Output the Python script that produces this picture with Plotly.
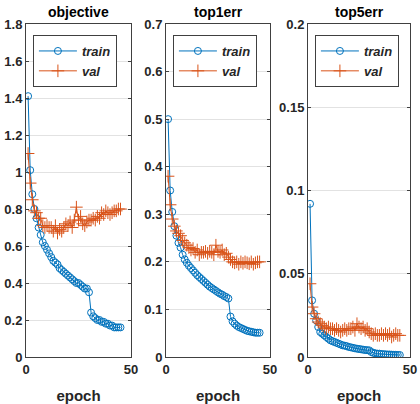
import plotly.graph_objects as go

epochs = list(range(1, 46))

train_objective = [1.41, 1.01, 0.88, 0.80, 0.75, 0.70, 0.66, 0.62, 0.60, 0.58,
                   0.56, 0.54, 0.52, 0.51, 0.50, 0.48, 0.47, 0.46, 0.45, 0.44,
                   0.43, 0.42, 0.41, 0.40, 0.40, 0.39, 0.38, 0.37, 0.37, 0.35,
                   0.24, 0.22, 0.21, 0.20, 0.20, 0.19, 0.19, 0.18, 0.18, 0.17,
                   0.17, 0.16, 0.16, 0.16, 0.16]
val_objective = [1.10, 0.94, 0.85, 0.79, 0.78, 0.75, 0.75, 0.71, 0.70, 0.71,
                 0.70, 0.70, 0.68, 0.71, 0.67, 0.69, 0.68, 0.70, 0.72, 0.71,
                 0.73, 0.70, 0.74, 0.81, 0.74, 0.76, 0.72, 0.71, 0.73, 0.74,
                 0.74, 0.75, 0.74, 0.76, 0.75, 0.78, 0.77, 0.79, 0.78, 0.77,
                 0.78, 0.79, 0.79, 0.80, 0.80]

train_top1 = [0.50, 0.35, 0.305, 0.275, 0.255, 0.24, 0.23, 0.215, 0.205, 0.198,
              0.192, 0.187, 0.182, 0.177, 0.172, 0.168, 0.164, 0.160, 0.156, 0.152,
              0.148, 0.145, 0.142, 0.139, 0.136, 0.133, 0.131, 0.128, 0.126, 0.123,
              0.085, 0.075, 0.070, 0.066, 0.063, 0.061, 0.059, 0.057, 0.055, 0.054,
              0.053, 0.052, 0.051, 0.051, 0.051]
val_top1 = [0.38, 0.32, 0.29, 0.275, 0.265, 0.26, 0.255, 0.245, 0.24, 0.235,
            0.23, 0.225, 0.228, 0.22, 0.225, 0.215, 0.22, 0.22, 0.222, 0.218,
            0.222, 0.22, 0.215, 0.235, 0.222, 0.22, 0.225, 0.215, 0.218, 0.21,
            0.205, 0.20, 0.198, 0.20, 0.195, 0.20, 0.197, 0.20, 0.198, 0.196,
            0.20, 0.195, 0.198, 0.20, 0.20]

train_top5 = [0.092, 0.034, 0.026, 0.022, 0.018, 0.015, 0.014, 0.013, 0.012, 0.011,
              0.010, 0.0095, 0.009, 0.0085, 0.008, 0.0075, 0.007, 0.0068, 0.0065, 0.006,
              0.0058, 0.0055, 0.0052, 0.005, 0.0048, 0.0046, 0.0044, 0.0042, 0.0041, 0.004,
              0.003, 0.0025, 0.0022, 0.002, 0.002, 0.0018, 0.0017, 0.0016, 0.0015, 0.0015,
              0.0014, 0.0013, 0.0013, 0.0012, 0.0012]
val_top5 = [0.044, 0.030, 0.026, 0.023, 0.021, 0.020, 0.019, 0.018, 0.017, 0.018,
            0.017, 0.017, 0.016, 0.017, 0.016, 0.015, 0.016, 0.017, 0.016, 0.017,
            0.017, 0.018, 0.016, 0.020, 0.018, 0.017, 0.018, 0.016, 0.017, 0.015,
            0.014, 0.013, 0.014, 0.013, 0.013, 0.014, 0.013, 0.014, 0.013, 0.014,
            0.012, 0.013, 0.014, 0.013, 0.013]

titles = ["objective", "top1err", "top5err"]
y_ranges = [[0, 1.8], [0, 0.7], [0, 0.2]]
y_dticks = [0.2, 0.1, 0.05]

BLUE = "#0072BD"
ORANGE = "#D95319"
AXIS = "#404040"
FONT = "Liberation Sans"

# plot area is 26..410 px wide, panels placed like the matlab subplots
domains = [[0, 0.2734], [0.3646, 0.6354], [0.7344, 1.0]]

fig = go.Figure()

panels = [
    (train_objective, val_objective),
    (train_top1, val_top1),
    (train_top5, val_top5),
]

for i, (train, val) in enumerate(panels):
    n = "" if i == 0 else str(i + 1)
    leg = "legend" + n
    fig.add_trace(
        go.Scatter(
            x=epochs, y=train, name="train", mode="lines+markers",
            line=dict(color=BLUE, width=1),
            marker=dict(symbol="circle-open", size=7, color=BLUE, line_width=1),
            xaxis="x" + n, yaxis="y" + n, legend=leg,
        )
    )
    fig.add_trace(
        go.Scatter(
            x=epochs, y=val, name="val", mode="lines+markers",
            line=dict(color=ORANGE, width=1),
            marker=dict(symbol="cross-thin-open", size=9, color=ORANGE,
                        line=dict(width=1, color=ORANGE)),
            xaxis="x" + n, yaxis="y" + n, legend=leg,
        )
    )

    fig.update_layout({
        "xaxis" + n: dict(
            domain=domains[i], anchor="y" + n, range=[0, 50], automargin=False,
            tickvals=[0, 50], ticks="inside", ticklen=3, tickcolor=AXIS,
            showline=True, linecolor=AXIS, linewidth=1, mirror="ticks",
            showgrid=False, zeroline=False,
            tickfont=dict(family=FONT, size=13, color="#262626", weight="bold"),
            title=dict(text="epoch", standoff=14,
                       font=dict(family=FONT, size=15, color="#262626", weight="bold")),
        ),
        "yaxis" + n: dict(
            anchor="x" + n, range=y_ranges[i], dtick=y_dticks[i], automargin=False,
            ticks="inside", ticklen=3, tickcolor=AXIS,
            showline=True, linecolor=AXIS, linewidth=1, mirror="ticks",
            showgrid=True, gridcolor="#e2e2e2", zeroline=False,
            tickfont=dict(family=FONT, size=13, color="#262626", weight="bold"),
        ),
        leg: dict(
            x=domains[i][0] + 0.018, y=0.967, xanchor="left", yanchor="top",
            bgcolor="white", bordercolor=AXIS, borderwidth=1,
            font=dict(family=FONT, size=13, color="#262626", weight="bold", style="italic"),
            traceorder="normal", itemwidth=38, title_text="",
        ),
    })

    fig.add_annotation(
        text=titles[i], x=(domains[i][0] + domains[i][1]) / 2, y=1,
        xref="paper", yref="paper", xanchor="center", yanchor="bottom",
        yshift=2, showarrow=False,
        font=dict(family=FONT, size=14, color="black", weight="bold"),
    )

fig.update_layout(
    width=420, height=404,
    margin=dict(l=26, r=10, t=24, b=47, autoexpand=False),
    plot_bgcolor="white", paper_bgcolor="white",
    font=dict(family=FONT),
)

# page body has a default 8px margin, drop it so the figure sits at 0,0
fig.write_html(
    "out.html",
    config={"displayModeBar": False},
    post_script="document.body.style.margin='0';",
)
